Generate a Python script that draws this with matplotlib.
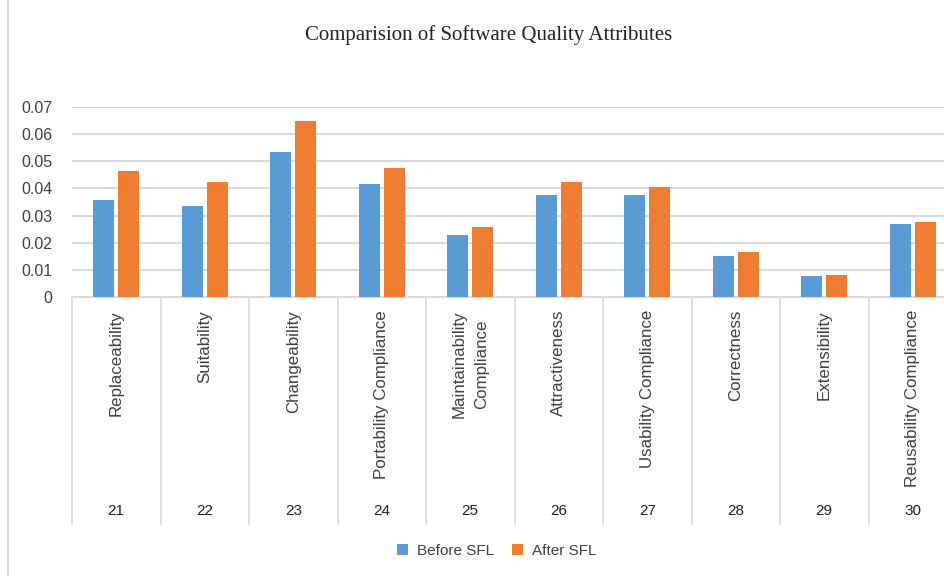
import matplotlib
matplotlib.use("Agg")
import matplotlib.pyplot as plt
import numpy as np

# values
attributes = ["Replaceability", "Suitability", "Changeability", "Portability Compliance",
              "Maintainability\nCompliance", "Attractiveness", "Usability Compliance",
              "Correctness", "Extensibility", "Reusability Compliance"]
ids = ["21", "22", "23", "24", "25", "26", "27", "28", "29", "30"]
before_sfl = [0.0358, 0.0336, 0.0535, 0.0417, 0.0229, 0.0376, 0.0376, 0.0151, 0.0077, 0.0269]
after_sfl = [0.0465, 0.0424, 0.0650, 0.0476, 0.0258, 0.0424, 0.0406, 0.0166, 0.0081, 0.0277]
yticks = [0, 0.01, 0.02, 0.03, 0.04, 0.05, 0.06, 0.07]
ytick_labels = ["0", "0.01", "0.02", "0.03", "0.04", "0.05", "0.06", "0.07"]

BLUE = "#5B9BD5"
ORANGE = "#ED7D31"
GRID = "#D9D9D9"
TXT = "#404040"

plt.rcParams['font.family'] = ['Liberation Sans', 'DejaVu Sans']

W, H = 944, 576
fig = plt.figure(figsize=(W / 100, H / 100), dpi=100)
# axes run a bit past the right edge, like the cropped original
ax = fig.add_axes([72 / W, 1 - 297 / H, (957 - 72) / W, (297 - 107) / H])

x = np.arange(len(attributes))
bw = 0.237
off = 0.141
ax.bar(x - off, before_sfl, bw, color=BLUE, label="Before SFL", zorder=3)
ax.bar(x + off, after_sfl, bw, color=ORANGE, label="After SFL", zorder=3)

ax.set_xlim(-0.5, len(attributes) - 0.5)
ax.set_ylim(0, 0.07)
ax.set_yticks(yticks)
ax.set_yticklabels(ytick_labels, fontsize=11.5, color=TXT)
ax.tick_params(axis="y", length=0, pad=14)
ax.set_xticks([])
ax.yaxis.grid(True, color=GRID, linewidth=1.5, zorder=0)
for s in ["top", "right", "left"]:
    ax.spines[s].set_visible(False)
ax.spines["bottom"].set_color(GRID)
ax.spines["bottom"].set_linewidth(1.5)

# multi-level category axis below the plot
trans = ax.get_xaxis_transform()
ax_h = 297 - 107
sep_bottom = -(524 - 297) / ax_h
for b in np.arange(-0.5, len(attributes), 1.0):
    ax.plot([b, b], [0, sep_bottom], transform=trans, color=GRID, lw=1.2, clip_on=False)
for i, (name, num) in enumerate(zip(attributes, ids)):
    ax.text(i, -(310 - 297) / ax_h, name, transform=trans, rotation=90, ha="center", va="top",
            fontsize=12.2, color=TXT, linespacing=1.65)
    ax.text(i, -(511 - 297) / ax_h, num, transform=trans, ha="center", va="center",
            fontsize=11, color="#222222")

fig.text(489 / W, 1 - 35 / H, "Comparision of Software Quality Attributes", ha="center", va="center",
         fontsize=15, family="Liberation Serif", color="#222222")

leg = fig.legend(loc="center", bbox_to_anchor=(497 / W, 1 - 551 / H), ncol=2, frameon=False,
                 fontsize=11, handlelength=0.7, handleheight=0.7, handletextpad=0.6, columnspacing=1.2)
for t in leg.get_texts():
    t.set_color(TXT)

# left chart-area border
fig.add_artist(plt.Line2D([8 / W, 8 / W], [0, 1], color=GRID, lw=1.5))

fig.savefig("out.png", dpi=100)
